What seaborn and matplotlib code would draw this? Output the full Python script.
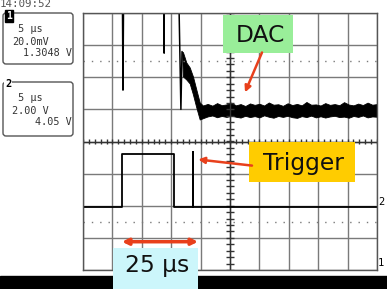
import numpy as np
import pandas as pd
import matplotlib.pyplot as plt
import matplotlib.patches as mpatches
import seaborn as sns

# scope settings (5 us/div, 10 x 8 divisions)
us_per_div = 5
ch1_mv_per_div = 20.0
ch2_v_per_div = 2.0
ch1_ground = -4.0     # marker "1"
ch2_ground = -2.05    # marker "2"

# channel 1 (DAC) - single line part, mV (values above 160 mV are off screen)
dac_t = [0.0, 6.65, 6.8, 6.95, 13.75, 13.8, 13.85, 16.15, 16.65, 16.84]
dac_mv = [200, 200, 112, 200, 200, 135, 200, 200, 100, 136]

# channel 1 noisy part, read as an upper / lower envelope, mV
band_t = [16.84, 17.0, 17.57, 18.15, 18.7, 19.27, 19.85, 20.4, 21.2, 22.0, 22.8,
          23.6, 24.4, 25.2, 26.0, 26.8, 27.6, 28.4, 29.2, 30.0, 30.8, 31.6,
          32.4, 33.2, 34.0, 34.8, 35.6, 36.4, 37.2, 38.0, 38.8, 39.6, 40.4,
          41.2, 42.0, 42.8, 43.6, 44.4, 45.2, 46.0, 46.8, 47.6, 48.4, 49.2, 50.0]
band_hi = [136, 135.6, 129.2, 126.1, 120.5, 112.4, 104.3, 102.4, 103.4, 102.3, 103.9,
           102.6, 103.1, 104.2, 102.5, 103.3, 102.1, 103.7, 102.8, 103.5, 102.4, 104.3,
           102.9, 103.2, 102.2, 103.8, 102.7, 103.4, 102.5, 104.6, 102.9, 103.1, 102.4,
           103.9, 102.8, 103.3, 102.6, 104.5, 103.0, 102.5, 103.6, 102.7, 104.2, 102.9, 103.3]
band_lo = [136, 120.5, 118.6, 116.1, 109.3, 101.2, 93.7, 94.5, 95.6, 96.2, 95.1,
           95.9, 95.3, 96.1, 95.4, 94.9, 96.0, 95.2, 95.8, 95.0, 96.3, 95.4,
           94.8, 95.9, 95.3, 96.0, 95.1, 94.7, 95.8, 95.2, 96.1, 95.0, 95.7,
           94.9, 95.6, 96.0, 95.2, 95.5, 94.8, 95.9, 95.3, 96.2, 95.0, 95.6, 95.4]

# channel 2 (trigger), volts
trig_t = [0.0, 6.68, 6.68, 15.48, 15.48, 18.64, 18.64, 18.7, 18.7, 50.0]
trig_v = [0.0, 0.0, 3.3, 3.3, 0.0, 0.0, 3.42, 3.42, 0.0, 0.0]

# readout panel
timestamp = "14:09:52"
ch1_lines = [" 5 µs", "20.0mV", "1.3048 V"]
ch2_lines = [" 5 µs", "2.00 V", "4.05 V"]

dac = pd.DataFrame({"t": dac_t, "div": np.array(dac_mv) / ch1_mv_per_div + ch1_ground})
trig = pd.DataFrame({"t": trig_t, "div": np.array(trig_v) / ch2_v_per_div + ch2_ground})
band_hi_div = np.array(band_hi) / ch1_mv_per_div + ch1_ground
band_lo_div = np.array(band_lo) / ch1_mv_per_div + ch1_ground

sns.set_theme(style="white")
plt.rcParams["font.family"] = ["DejaVu Sans"]

W, H = 387, 289
fig = plt.figure(figsize=(W / 100, H / 100), dpi=100)
fig.patch.set_facecolor("white")

# overlay in pixel units for the readout panel and bottom bar
ov = fig.add_axes([0, 0, 1, 1], zorder=0)
ov.set_xlim(0, W)
ov.set_ylim(H, 0)
ov.axis("off")
ov.add_patch(mpatches.Rectangle((0, 276), W, 13, color="black"))
mono = "DejaVu Sans Mono"
ov.text(0, 7, timestamp, family=mono, fontsize=7.8, color="#555555", va="baseline")
for y0, y1, lines, label in [(13, 64, ch1_lines, "1"), (82, 136, ch2_lines, "2")]:
    ov.add_patch(mpatches.FancyBboxPatch((3, y0), 70, y1 - y0, boxstyle="round,pad=0,rounding_size=3",
                                         fc="white", ec="#555555", lw=1))
    if label == "1":
        ov.text(9, y0 + 3, label, family=mono, fontsize=7, weight="bold", color="white",
                ha="center", va="center", bbox=dict(boxstyle="square,pad=0.1", fc="black", ec="black"))
    else:
        ov.text(8, y0 + 2, label, family=mono, fontsize=7.5, weight="bold", color="black",
                ha="center", va="center", bbox=dict(boxstyle="square,pad=0.05", fc="white", ec="none"))
    ov.text(12, y0 + 19, lines[0], family=mono, fontsize=7.3, color="#333333", va="baseline")
    ov.text(12, y0 + 32, lines[1], family=mono, fontsize=7.3, color="#333333", va="baseline")
    ov.text(72, y0 + 43, lines[2], family=mono, fontsize=7.3, color="#333333", va="baseline", ha="right")
ov.text(381, 205, "2", family=mono, fontsize=7.5, color="black", ha="center", va="baseline")
ov.text(381, 266, "1", family=mono, fontsize=7.5, color="black", ha="center", va="baseline")

# graticule axes
ax = fig.add_axes([83 / W, (H - 270) / H, 294 / W, 257 / H], zorder=1)
ax.patch.set_alpha(0)
ax.set_xlim(0, 10 * us_per_div)
ax.set_ylim(-4, 4)
ax.set_xticks(np.arange(0, 10 * us_per_div + 1, us_per_div))
ax.set_yticks(np.arange(-4, 5, 1))
ax.tick_params(length=0, labelbottom=False, labelleft=False)
ax.grid(True, color="#7a7a7a", lw=1)
for s in ax.spines.values():
    s.set_color("#555555")
    s.set_linewidth(1)
ax.axhline(0, color="#333333", lw=1)
ax.axvline(25, color="#333333", lw=1)
ax.vlines(np.arange(0, 50.1, 1), -0.07, 0.07, color="#333333", lw=1)
ax.hlines(np.arange(-4, 4.01, 0.2), 24.4, 25.6, color="#333333", lw=1)
for yd in (2.5, -2.5):
    ax.axhline(yd, color="#7a7a7a", lw=1, ls=(0, (1, 5)))

# traces
sns.lineplot(data=trig, x="t", y="div", sort=False, estimator=None, color="black", lw=1.3, ax=ax)
sns.lineplot(data=dac, x="t", y="div", sort=False, estimator=None, color="black", lw=1.1, ax=ax)
ax.fill_between(band_t, band_lo_div, band_hi_div, color="black", lw=0.6)
ax.set_xlabel("")
ax.set_ylabel("")

# callouts
red = "#e8401c"
ax.add_patch(mpatches.Rectangle((23.8, 2.77), 11.9, 1.16, fc="#99ee99", ec="none", zorder=5))
ax.text(30.1, 3.1, "DAC", fontsize=16.8, ha="center", va="baseline", color="#111111", zorder=6)
ax.annotate("", xy=(27.55, 1.53), xytext=(30.44, 2.77),
            arrowprops=dict(arrowstyle="-|>", color=red, lw=1.8, mutation_scale=9, shrinkA=0, shrinkB=0),
            zorder=6)

ax.add_patch(mpatches.Rectangle((28.23, -1.25), 18.03, 1.25, fc="#ffcc00", ec="none", zorder=5))
ax.text(37.47, -0.9, "Trigger", fontsize=16.8, ha="center", va="baseline", color="#111111", zorder=6)
ax.annotate("", xy=(19.6, -0.56), xytext=(28.74, -0.75),
            arrowprops=dict(arrowstyle="-|>", color=red, lw=1.8, mutation_scale=9, shrinkA=0, shrinkB=0),
            zorder=6)

ax.annotate("", xy=(6.63, -3.12), xytext=(19.56, -3.12),
            arrowprops=dict(arrowstyle="<|-|>", color=red, lw=2.5, mutation_scale=9, shrinkA=0, shrinkB=0),
            zorder=6)
ax.add_patch(mpatches.Rectangle((5.1, -4.6), 14.46, 1.3, fc="#ccf6fb", ec="none", zorder=5, clip_on=False))
ax.text(12.67, -4.05, "25 µs", fontsize=16.8, ha="center", va="baseline", color="#111111",
        zorder=6, clip_on=False)

fig.savefig("out.png", dpi=100)
